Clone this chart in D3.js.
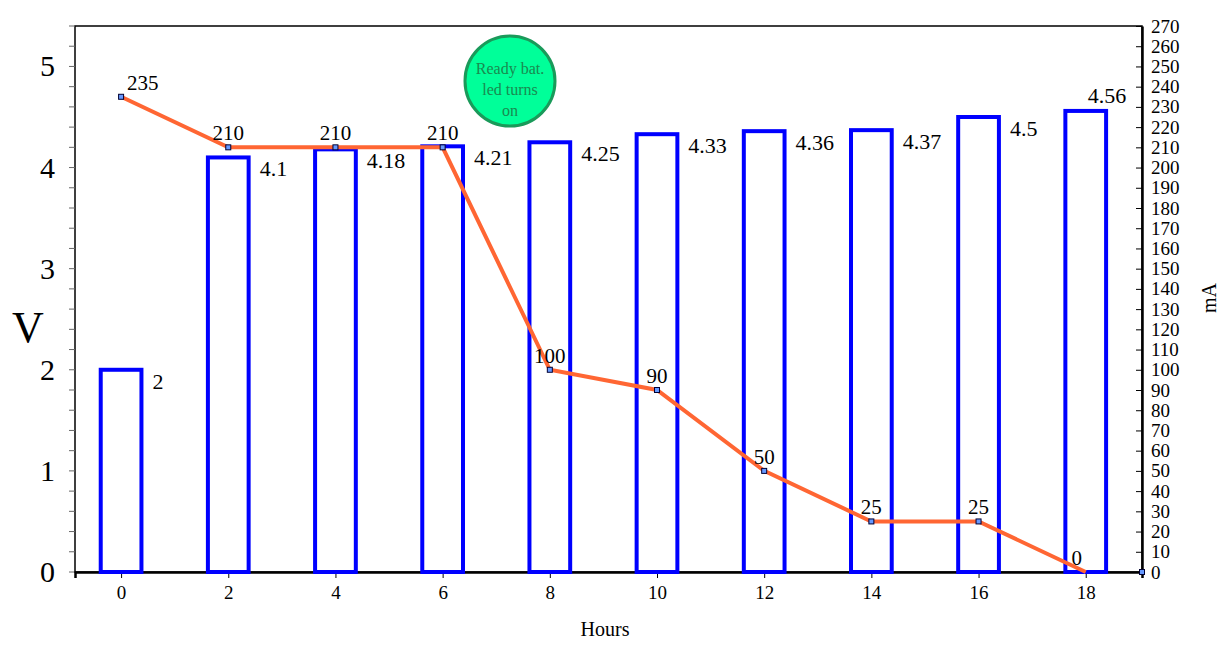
<!DOCTYPE html>
<html><head><meta charset="utf-8">
<script src="https://cdn.jsdelivr.net/npm/d3@7"></script>
<style>body{margin:0;background:#fff}text{font-family:"Liberation Serif","DejaVu Serif",serif}</style>
</head><body><svg id="c" width="1223" height="657"></svg>
<script>
// data
const hours = [0, 2, 4, 6, 8, 10, 12, 14, 16, 18];
const volts = [2, 4.1, 4.18, 4.21, 4.25, 4.33, 4.36, 4.37, 4.5, 4.56];
const current = [235, 210, 210, 210, 100, 90, 50, 25, 25, 0];
const voltTicks = [0, 1, 2, 3, 4, 5];
const note = ["Ready bat.", "led turns", "on"];

const L = 75, R = 1142, T = 26, B = 572;
const svg = d3.select('#c');
const x = d3.scaleLinear().domain([-0.86, 19.05]).range([L, R]);
const yV = d3.scaleLinear().domain([0, 5.4]).range([B, T]);
const yA = d3.scaleLinear().domain([0, 270]).range([B, T]);

// frame
svg.append('rect').attr('x', L).attr('y', T).attr('width', R - L).attr('height', B - T)
  .attr('fill', 'none').attr('stroke', '#000').attr('stroke-width', 1.5);

// left axis: minor ticks every 0.2
svg.selectAll('.mt').data(d3.range(0, 5.41, 0.2)).enter().append('line')
  .attr('x1', L - 6).attr('x2', L).attr('y1', d => yV(d)).attr('y2', d => yV(d))
  .attr('stroke', '#666');
svg.selectAll('.vl').data(voltTicks).enter().append('text')
  .attr('x', 55).attr('y', d => yV(d) + 10).attr('text-anchor', 'end')
  .attr('font-size', 30).text(d => d);

// right axis
const ra = svg.append('g').attr('transform', `translate(${R},0)`)
  .call(d3.axisRight(yA).tickValues(d3.range(0, 271, 10)).tickSize(0).tickPadding(9));
ra.select('.domain').attr('stroke-width', 2.5);
ra.selectAll('.tick text').attr('font-size', 19).attr('font-family', '"Liberation Serif",serif').attr('fill', '#000');
ra.selectAll('.tick').append('line').attr('x1', -6).attr('x2', 0).attr('stroke', '#000');

// bottom axis
const ba = svg.append('g').attr('transform', `translate(0,${B})`)
  .call(d3.axisBottom(x).tickValues(hours).tickSize(6).tickPadding(8));
ba.select('.domain').attr('stroke-width', 2.5);
ba.selectAll('.tick text').attr('font-size', 19).attr('font-family', '"Liberation Serif",serif').attr('fill', '#000');

// bars
const bw = x(0.76) - x(0);
svg.selectAll('.bar').data(hours).enter().append('rect')
  .attr('x', (d) => x(d) - bw / 2).attr('y', (d, i) => yV(volts[i]))
  .attr('width', bw).attr('height', (d, i) => B - yV(volts[i]))
  .attr('fill', 'none').attr('stroke', '#0000ff').attr('stroke-width', 4);
svg.selectAll('.bl').data(hours).enter().append('text')
  .attr('x', d => x(d) + bw / 2 + 11).attr('y', (d, i) => yV(volts[i]) + (i == 9 ? -8 : 19))
  .attr('text-anchor', (d, i) => i == 9 ? 'middle' : 'start')
  .attr('dx', (d, i) => i == 9 ? -10 : 0)
  .attr('font-size', 22).text((d, i) => volts[i]);

// current line
const pts = hours.map((h, i) => [h, current[i]]);
svg.append('path').datum(pts)
  .attr('d', d3.line().x(d => x(d[0])).y(d => yA(d[1])))
  .attr('fill', 'none').attr('stroke', '#ff6633').attr('stroke-width', 4);
svg.selectAll('.pt').data(pts.slice(0, 9)).enter().append('rect')
  .attr('x', d => x(d[0]) - 2.5).attr('y', d => yA(d[1]) - 2.5).attr('width', 5).attr('height', 5)
  .attr('fill', '#6699ff').attr('stroke', '#003').attr('stroke-width', 1);
svg.append('rect').attr('x', R - 2.5).attr('y', B - 2.5).attr('width', 5).attr('height', 5)
  .attr('fill', '#6699ff').attr('stroke', '#003');
svg.selectAll('.cl').data(pts).enter().append('text')
  .attr('x', (d, i) => x(d[0]) + (i == 0 ? 6 : i == 9 ? -9 : 0))
  .attr('y', d => yA(d[1]) - 7)
  .attr('text-anchor', (d, i) => i == 0 ? 'start' : 'middle')
  .attr('font-size', 21).text(d => d[1]);

// badge
svg.append('circle').attr('cx', 510).attr('cy', 81).attr('r', 45)
  .attr('fill', '#00ff99').attr('stroke', '#1a9a5a').attr('stroke-width', 3);
svg.selectAll('.nt').data(note).enter().append('text')
  .attr('x', 510).attr('y', (d, i) => 74 + i * 21).attr('text-anchor', 'middle')
  .attr('font-size', 16).attr('fill', '#1a8a50').text(d => d);

// titles
svg.append('text').attr('x', 28).attr('y', 342).attr('text-anchor', 'middle').attr('font-size', 44).text('V');
svg.append('text').attr('transform', 'translate(1216,298) rotate(-90)').attr('text-anchor', 'middle').attr('font-size', 20).text('mA');
svg.append('text').attr('x', 605).attr('y', 636).attr('text-anchor', 'middle').attr('font-size', 20).text('Hours');
</script></body></html>
